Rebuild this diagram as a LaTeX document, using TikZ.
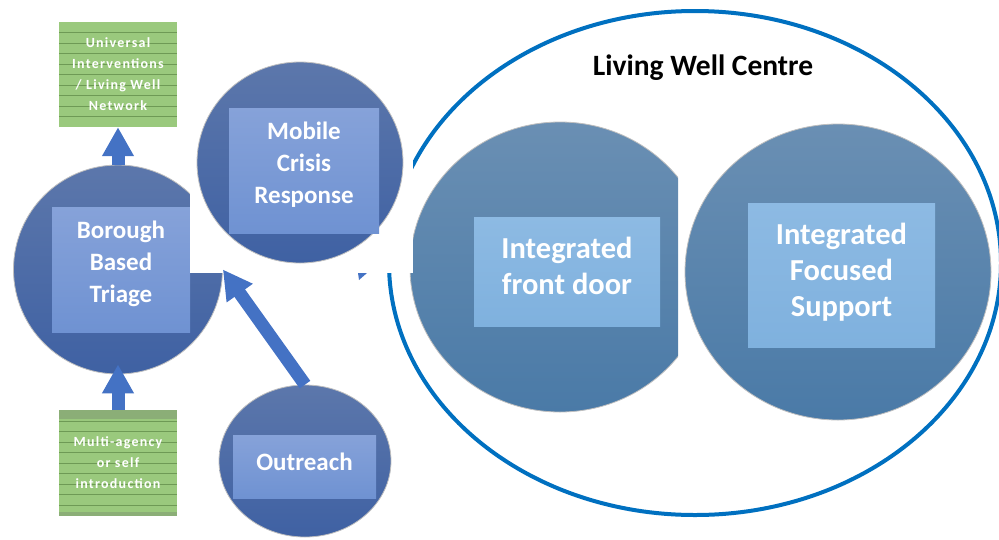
\documentclass[tikz,border=0pt]{standalone}
\usepackage{fontspec}
\setmainfont{Carlito}
\usetikzlibrary{arrows.meta,shapes.geometric}
\definecolor{discTop}{HTML}{5C77AB}
\definecolor{discBot}{HTML}{3F61A3}
\definecolor{panelTop}{HTML}{86A2D9}
\definecolor{panelBot}{HTML}{6F92D2}
\definecolor{lwcTop}{HTML}{6A8FB3}
\definecolor{lwcBot}{HTML}{4A7AA7}
\definecolor{lwcPanelTop}{HTML}{8DBAE3}
\definecolor{lwcPanelBot}{HTML}{7FB1DE}
\definecolor{noteGreen}{HTML}{9AC97D}
\definecolor{stripeGreen}{HTML}{6E9A55}
\definecolor{flowBlue}{HTML}{4472C4}
\definecolor{ringBlue}{HTML}{0070C0}
\tikzset{%
  >={Triangle[width=30pt,length=29pt]},
  % Specifications for style of nodes:
  base/.style = {
    rectangle,
    text centered,
    align=center,
    inner sep=0pt,
    text=white,
    font=\bfseries
  },
  disc/.style = {ellipse, inner sep=0pt, top color=discTop, bottom color=discBot,
                 draw=black!25, line width=0.8pt},
  lwcdisc/.style = {disc, top color=lwcTop, bottom color=lwcBot},
  panel/.style = {base, top color=panelTop, bottom color=panelBot, text depth=15pt,
                  font=\bfseries\fontsize{25}{32}\selectfont},
  lwcpanel/.style = {base, top color=lwcPanelTop, bottom color=lwcPanelBot,
                     font=\bfseries\fontsize{30.5}{36}\selectfont},
  note/.style = {base, fill=noteGreen, minimum width=118pt, minimum height=105pt,
                 font=\bfseries\fontsize{14}{21}\selectfont\addfontfeature{LetterSpace=9},
                 path picture={
                   \foreach \k in {1,...,9}
                     \draw[stripeGreen, line width=0.8pt]
                       ([yshift=-\k*10.5pt]path picture bounding box.north west) --
                       ([yshift=-\k*10.5pt]path picture bounding box.north east);
                 }},
  flow/.style = {->, line width=13pt, draw=flowBlue},
}

\begin{document}
\begin{tikzpicture}[x=1pt, y=-1pt]
  \useasboundingbox (0,0) rectangle (999,539);
  % Living Well Centre
  \node (lwc) [ellipse, draw=ringBlue, line width=4pt, minimum width=612pt,
               minimum height=504pt] at (695,263) {};
  \node (lwctitle) [font=\bfseries\fontsize{29.5}{34}\selectfont] at (703,68)
  {Living Well Centre};
  \begin{scope}
    \clip (0,0) rectangle (678,539);
    \node (frontdoor) [lwcdisc, minimum width=300pt, minimum height=290pt] at (560,267) {};
  \end{scope}
  \node (frontdoorbox) [lwcpanel, text depth=12pt, minimum width=186pt, minimum height=109pt]
  at (567,271.5) {Integrated\\front door};
  \node (focused) [lwcdisc, minimum width=306pt, minimum height=296pt] at (838,272) {};
  \node (focusedbox) [lwcpanel, text depth=10pt, minimum width=187pt, minimum height=144pt]
  at (841.5,275) {Integrated\\Focused\\Support};
  % triage
  \node (triage) [disc, minimum width=209pt, minimum height=209pt] at (118,269.5) {};
  \node (triagebox) [panel, minimum width=138pt, minimum height=125pt]
  at (121,269.5) {Borough\\Based\\Triage};
  \fill[white] (190,140) rectangle (413,273);
  \fill[flowBlue] (358,273) -- (367,273) -- (359,280) -- cycle;
  % mobile crisis
  \node (mobile) [disc, minimum width=206pt, minimum height=201pt] at (300,162.5) {};
  \node (mobilebox) [panel, minimum width=150pt, minimum height=125pt]
  at (304,170.5) {Mobile\\Crisis\\Response};
  % outreach
  \node (outreach) [disc, minimum width=172pt, minimum height=152pt] at (305,461) {};
  \node (outreachbox) [panel, text depth=10pt, minimum width=143pt, minimum height=63pt]
  at (304.5,466.5) {Outreach};
  % notes
  \node (universal) [note] at (118,74.5) {Universal\\Interventions\\/ Living Well\\Network};
  \node (intro) [note] at (118,463) {Multi-agency\\or self\\introduction};
  \fill[stripeGreen!80] (intro.north west) rectangle ([yshift=-9pt]intro.north east);
  \fill[stripeGreen!80] ([yshift=4pt]intro.south west) rectangle (intro.south east);
  % lines
  \draw[flow] (triage.north) -- (universal.south);
  \draw[flow, shorten >=-10pt] (intro.north) -- (triage.south);
  \draw[flow] (outreach.north) -- (triage.east);
\end{tikzpicture}
\end{document}
